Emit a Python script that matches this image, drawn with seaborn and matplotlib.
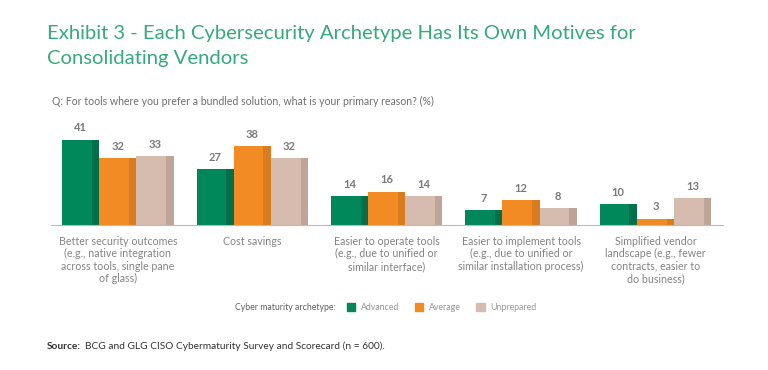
import pandas as pd
import matplotlib.pyplot as plt
import matplotlib.patches as mpatches
from matplotlib.offsetbox import HPacker
import seaborn as sns

# Data
reasons = [
    "Better security outcomes\n(e.g., native integration\nacross tools, single pane\nof glass)",
    "Cost savings",
    "Easier to operate tools\n(e.g., due to unified or\nsimilar interface)",
    "Easier to implement tools\n(e.g., due to unified or\nsimilar installation process)",
    "Simplified vendor\nlandscape (e.g., fewer\ncontracts, easier to\ndo business)",
]
archetypes = ["Advanced", "Average", "Unprepared"]
advanced = [41, 27, 14, 7, 10]
average = [32, 38, 16, 12, 3]
unprepared = [33, 32, 14, 8, 13]

colors = ["#00875A", "#F28B24", "#D5BCAF"]
dark = ["#006F4A", "#D97B1F", "#BFA597"]

df = pd.DataFrame({
    "reason": reasons * 3,
    "archetype": [a for a in archetypes for _ in reasons],
    "value": advanced + average + unprepared,
})

sns.set_style("white")
plt.rcParams["font.family"] = ["Lato", "DejaVu Sans"]

fig = plt.figure(figsize=(7.68, 3.70), dpi=100)
ax = fig.add_axes([0.066, 0.392, 0.875, 0.27])

sns.barplot(data=df, x="reason", y="value", hue="archetype", order=reasons,
            hue_order=archetypes, palette=colors, width=0.83, saturation=1,
            linewidth=0, edgecolor="none", ax=ax, legend=False)

# darker right-hand strip on each bar + value labels
for i, cont in enumerate(ax.containers):
    for bar in cont:
        x0, w, h = bar.get_x(), bar.get_width(), bar.get_height()
        ax.add_patch(mpatches.Rectangle((x0 + w * 0.8, 0), w * 0.2, h,
                                        facecolor=dark[i], lw=0))
        ax.text(x0 + w / 2, h + 3.0, f"{h:.0f}", ha="center", va="bottom",
                fontsize=8, fontweight="bold", color="#7a7a7a")

ax.set_ylim(0, 48)
ax.set_xlim(-0.5, 4.5)
ax.set_yticks([])
ax.set_xlabel("")
ax.set_ylabel("")
for s in ["top", "right", "left"]:
    ax.spines[s].set_visible(False)
ax.spines["bottom"].set_color("#bbbbbb")
ax.spines["bottom"].set_linewidth(0.8)
ax.tick_params(axis="x", length=0, pad=8, labelsize=7.7, labelcolor="#858585")
for lbl in ax.get_xticklabels():
    lbl.set_linespacing(1.15)

fig.text(0.061, 0.895, "Exhibit 3 - Each Cybersecurity Archetype Has Its Own Motives for",
         fontsize=14.6, color="#36A97D")
fig.text(0.061, 0.828, "Consolidating Vendors", fontsize=14.6, color="#36A97D")
fig.text(0.068, 0.715, "Q: For tools where you prefer a bundled solution, what is your primary reason? (%)",
         fontsize=7.6, color="#707070")

handles = [mpatches.Patch(color=c) for c in colors]
leg = fig.legend(handles, archetypes, loc="center", bbox_to_anchor=(0.502, 0.168),
                 ncol=3, frameon=False, fontsize=6.3, handlelength=1.0, handleheight=1.0,
                 columnspacing=1.8, handletextpad=0.6, title="Cyber maturity archetype:")
for t in leg.get_texts():
    t.set_color("#959595")
leg.get_title().set_fontsize(6.3)
leg.get_title().set_color("#606060")
# put the legend title inline, left of the entries
box = leg._legend_box
box._children = [HPacker(children=list(box.get_children()), align="center", pad=0, sep=8)]

src = fig.text(0.061, 0.058, "Source:", fontsize=7.3, fontweight="bold", color="#333333")
fig.canvas.draw()
bb = src.get_window_extent().transformed(fig.transFigure.inverted())
fig.text(bb.x1 + 0.005, 0.058, "BCG and GLG CISO Cybermaturity Survey and Scorecard (n = 600).",
         fontsize=7.3, color="#333333")

fig.savefig("out.png", dpi=100)
